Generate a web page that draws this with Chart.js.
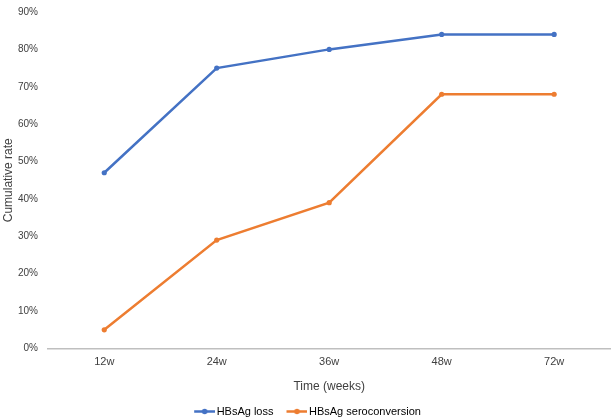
<!DOCTYPE html>
<html>
<head>
<meta charset="utf-8">
<script src="https://cdn.jsdelivr.net/npm/chart.js@4.4.1/dist/chart.umd.min.js"></script>
<style>
  html, body { margin: 0; padding: 0; background: #fff; }
  #wrap { width: 613px; height: 419px; position: relative; }
</style>
</head>
<body>
<div id="wrap"><canvas id="chart"></canvas></div>
<script>
// data
const weeks = ['12w', '24w', '36w', '48w', '72w'];
const hbsagLoss = [47, 75, 80, 84, 84];
const hbsagSeroconversion = [5, 29, 39, 68, 68];
const yTicks = [0, 10, 20, 30, 40, 50, 60, 70, 80, 90];

const BLUE = '#4472C4';
const ORANGE = '#ED7D31';

// little line-with-dot icon for the legend (transparent margin on the left)
function legendIcon(color) {
        const c = document.createElement('canvas');
        c.width = 27;
        c.height = 7;
        const ctx = c.getContext('2d');
        ctx.strokeStyle = color;
        ctx.lineWidth = 2.5;
        ctx.beginPath();
        ctx.moveTo(6, 3.5);
        ctx.lineTo(27, 3.5);
        ctx.stroke();
        ctx.fillStyle = color;
        ctx.beginPath();
        ctx.arc(16.5, 3.5, 2.8, 0, Math.PI * 2);
        ctx.fill();
        return c;
}

Chart.defaults.font.family = '"Liberation Sans", Arial, sans-serif';
Chart.defaults.color = '#404040';

const ctx = document.getElementById('chart').getContext('2d');
new Chart(ctx, {
        type: 'line',
        data: {
                labels: weeks,
                datasets: [
                        {
                                label: 'HBsAg loss',
                                data: hbsagLoss,
                                borderColor: BLUE,
                                backgroundColor: BLUE,
                                borderWidth: 2.5,
                                pointRadius: 2.6,
                                pointBorderWidth: 0,
                                pointHoverRadius: 2.6,
                                tension: 0,
                                legendIcon: legendIcon(BLUE)
                        },
                        {
                                label: 'HBsAg seroconversion',
                                data: hbsagSeroconversion,
                                borderColor: ORANGE,
                                backgroundColor: ORANGE,
                                borderWidth: 2.5,
                                pointRadius: 2.6,
                                pointBorderWidth: 0,
                                pointHoverRadius: 2.6,
                                tension: 0,
                                legendIcon: legendIcon(ORANGE)
                        }
                ]
        },
        options: {
                responsive: true,
                maintainAspectRatio: false,
                animation: false,
                layout: { padding: { top: 12, right: 0, bottom: -8, left: 0 } },
                plugins: {
                        tooltip: { enabled: false },
                        legend: {
                                position: 'bottom',
                                labels: {
                                        usePointStyle: true,
                                        pointStyleWidth: 19,
                                        padding: 11,
                                        font: { size: 11 },
                                        color: '#404040',
                                        generateLabels(chart) {
                                                return chart.data.datasets.map((ds, i) => ({
                                                        text: ds.label,
                                                        pointStyle: ds.legendIcon,
                                                        fillStyle: ds.borderColor,
                                                        strokeStyle: ds.borderColor,
                                                        lineWidth: 0,
                                                        hidden: false,
                                                        datasetIndex: i
                                                }));
                                        }
                                }
                        }
                },
                scales: {
                        x: {
                                offset: true,
                                grid: { display: false, drawTicks: false },
                                border: { display: true, color: '#BFBFBF', width: 1.5 },
                                ticks: { padding: 7, font: { size: 11 }, color: '#404040' },
                                title: {
                                        display: true,
                                        text: 'Time (weeks)',
                                        font: { size: 12 },
                                        color: '#404040',
                                        padding: { top: 0, bottom: 1 }
                                },
                                afterFit(axis) { axis.height = 46.5; }
                        },
                        y: {
                                min: 0,
                                max: 90,
                                grid: { display: false, drawTicks: false },
                                border: { display: false },
                                afterBuildTicks(axis) {
                                        axis.ticks = yTicks.map(v => ({ value: v }));
                                },
                                ticks: {
                                        padding: 10,
                                        font: { size: 10 },
                                        color: '#404040',
                                        callback: v => v + '%'
                                },
                                title: {
                                        display: true,
                                        text: 'Cumulative rate',
                                        font: { size: 12 },
                                        color: '#404040',
                                        padding: { top: 1, bottom: 0 }
                                },
                                afterFit(axis) {
                                        axis.width = 48;
                                        // only half a label is needed above the top tick
                                        axis.paddingTop = 6;
                                }
                        }
                }
        }
});
</script>
</body>
</html>
